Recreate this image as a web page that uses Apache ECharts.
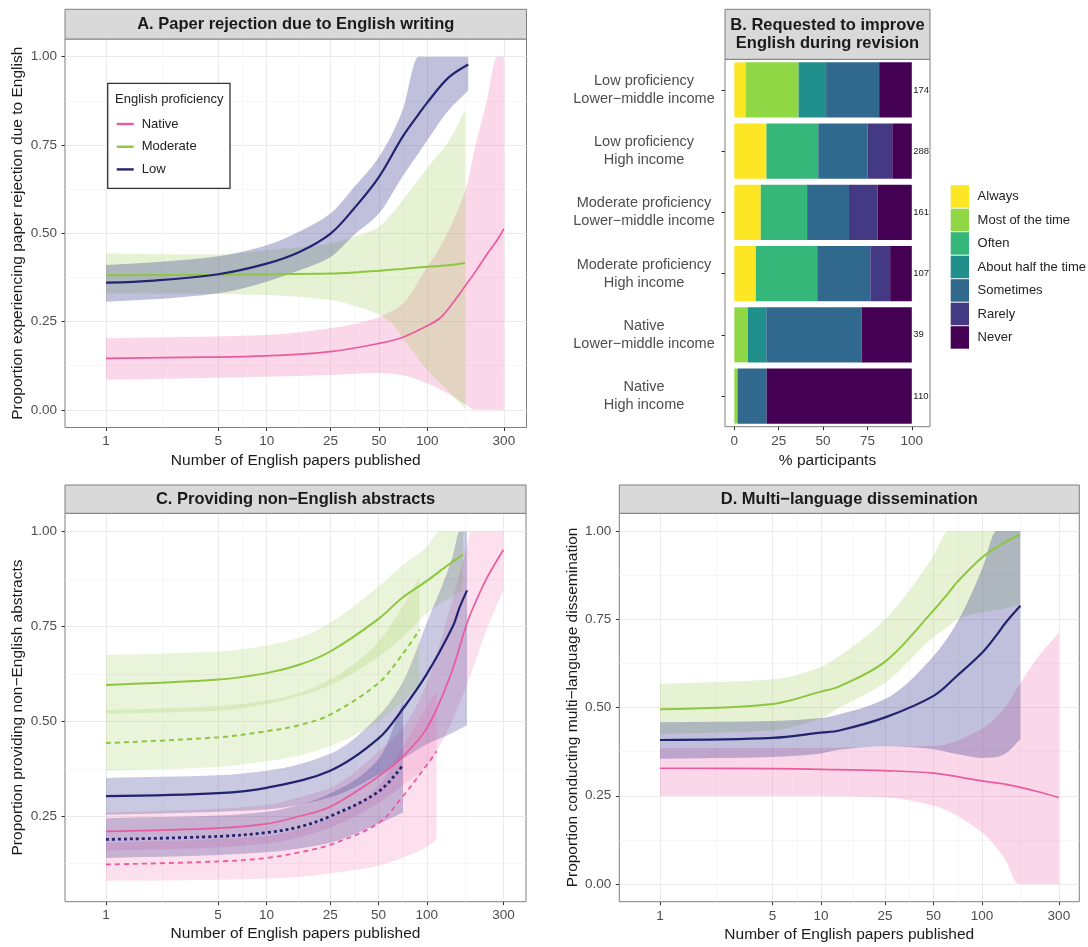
<!DOCTYPE html>
<html>
<head>
<meta charset="utf-8">
<script src="https://cdn.jsdelivr.net/npm/echarts@6/dist/echarts.min.js"></script>
<style>
html,body{margin:0;padding:0;background:#fff;}
#chart{width:1088px;height:947px;}
</style>
</head>
<body>
<div id="chart"></div>
<script>
// ---------------- DATA ----------------
const xTicks = [1, 5, 10, 25, 50, 100, 300];
const yTicks = [0, 0.25, 0.5, 0.75, 1];
const pctTicks = [0, 25, 50, 75, 100];
const groups = ['Native', 'Moderate', 'Low'];

// rows: [papers published, fitted proportion, lower CI, upper CI]
// A. Paper rejection due to English writing
const rejNative = [
  [1, .146, .085, .203], [4, .149, .090, .207], [10, .153, .094, .212], [25, .165, .099, .231],
  [50, .188, .104, .262], [70, .205, .098, .300], [100, .238, .075, .405], [120, .260, .058, .460],
  [140, .295, .042, .520], [175, .355, .014, .630], [200, .392, 0, .750], [235, .440, 0, .876],
  [272, .480, 0, 1], [300, .513, 0, 1]
];
const rejModerate = [
  [1, .381, .330, .443], [5, .382, .328, .440], [10, .384, .325, .452], [25, .386, .311, .471],
  [35, .389, .295, .490], [50, .394, .270, .518], [60, .397, .245, .555], [70, .399, .205, .593],
  [100, .405, .113, .685], [140, .410, .047, .770], [172, .416, .003, .850]
];
const rejLow = [
  [1, .360, .306, .410], [2, .366, .313, .418], [5, .384, .330, .435], [10, .414, .363, .466],
  [16, .447, .395, .505], [25, .499, .433, .556], [35, .570, .495, .630], [50, .659, .556, .716],
  [70, .772, .660, .847], [88, .836, .726, 1], [100, .870, .763, 1], [135, .940, .847, 1], [180, .978, .904, 1]
];

// B. Requested to improve English during revision (% participants)
const bCategories = [
  'Low proficiency\nLower\u2212middle income', 'Low proficiency\nHigh income',
  'Moderate proficiency\nLower\u2212middle income', 'Moderate proficiency\nHigh income',
  'Native\nLower\u2212middle income', 'Native\nHigh income'
];
const bCounts = [174, 288, 161, 107, 39, 110];
const bLevels = ['Always', 'Most of the time', 'Often', 'About half the time', 'Sometimes', 'Rarely', 'Never'];
const bAlways    = [6.3, 18.1, 14.9, 12.1, 0, 0];
const bMost      = [29.9, 0, 0, 0, 7.7, 1.8];
const bOften     = [0, 29.2, 26.1, 34.6, 0, 0];
const bHalf      = [15.5, 0, 0, 0, 10.3, 0];
const bSometimes = [29.9, 27.8, 23.6, 29.9, 53.8, 16.4];
const bRarely    = [0, 13.9, 16.1, 11.2, 0, 0];
const bNever     = [18.4, 11.0, 19.3, 12.2, 28.2, 81.8];

// C. Providing non-English abstracts
const absNativeSolid = [
  [1, .210, .160, .260], [5, .219, .168, .270], [10, .230, .178, .280], [16, .250, .195, .300],
  [25, .275, .220, .325], [50, .355, .285, .420], [70, .405, .330, .480], [100, .482, .385, .600],
  [140, .620, .490, .800], [175, .750, .590, .950], [190, .790, .630, 1], [235, .875, .740, 1], [300, .952, .846, 1]
];
const absNativeDashed = [
  [1, .123, .080, .180], [5, .131, .083, .190], [10, .140, .086, .198], [16, .155, .090, .215],
  [25, .175, .100, .245], [50, .232, .120, .330], [70, .300, .140, .430], [100, .385, .170, .540], [115, .421, .190, .580]
];
const absModerateSolid = [
  [1, .596, .520, .675], [5, .610, .528, .684], [10, .627, .545, .700], [16, .649, .566, .720],
  [25, .684, .595, .760], [50, .770, .671, .855], [70, .825, .720, .910], [100, .870, .785, .960],
  [120, .895, .810, 1], [139, .915, .825, 1], [168, .939, .845, 1]
];
const absModerateDashed = [
  [1, .443, .370, .530], [5, .458, .380, .540], [10, .474, .395, .555], [16, .490, .410, .575],
  [25, .518, .435, .610], [50, .601, .500, .710], [70, .675, .550, .800], [90, .741, .600, .880]
];
const absLowSolid = [
  [1, .303, .254, .351], [5, .311, .262, .358], [10, .325, .268, .370], [25, .370, .300, .415],
  [50, .455, .360, .515], [70, .530, .400, .600], [100, .625, .440, .760], [145, .750, .470, .935],
  [160, .800, .480, 1], [178, .845, .490, 1]
];
const absLowDotted = [
  [1, .189, .140, .245], [5, .197, .148, .252], [10, .207, .155, .262], [16, .222, .165, .280],
  [25, .250, .180, .310], [50, .315, .230, .400], [71, .385, .260, .550]
];

// D. Multi-language dissemination
const dissNative = [
  [1, .328, .250, .385], [5, .327, .250, .385], [10, .325, .250, .385], [25, .321, .245, .390],
  [50, .314, .222, .391], [100, .292, .146, .440], [139, .283, .070, .500], [168, .275, 0, .560],
  [220, .262, 0, .640], [300, .245, 0, .712]
];
const dissModerate = [
  [1, .495, .425, .567], [5, .510, .435, .580], [10, .545, .470, .615], [13, .560, .500, .646],
  [25, .630, .570, .750], [50, .775, .700, .930], [62, .825, .730, 1], [70, .855, .750, 1],
  [100, .925, .770, 1], [135, .965, .780, 1], [172, .990, .790, 1]
];
const dissLow = [
  [1, .408, .355, .458], [5, .414, .360, .462], [10, .429, .370, .470], [13, .435, .380, .481],
  [25, .472, .390, .524], [50, .533, .382, .646], [70, .590, .368, .741], [100, .655, .357, .892],
  [123, .705, .360, 1], [140, .740, .370, 1], [173, .788, .410, 1]
];

// ---------------- STYLE ----------------
const FONT = '"Liberation Sans", Arial, Helvetica, sans-serif';
const LINE = { Native: '#EB5A9F', Moderate: '#8DC641', Low: '#23236F' };
const BAND = { Native: 'rgba(238,90,165,0.24)', Moderate: 'rgba(150,200,70,0.24)', Low: 'rgba(45,45,140,0.30)' };
const BAND_C = { Native: 'rgba(238,90,165,0.19)', Moderate: 'rgba(150,200,70,0.20)', Low: 'rgba(45,45,140,0.26)' };
const VIRIDIS = ['#FDE725', '#8FD744', '#35B779', '#21908C', '#31688E', '#443A83', '#440154'];
const TICK = '#4D4D4D';
const BORDER = '#7F7F7F';

const L = Math.log10;
const xMajorVals = xTicks.map(L);
const xMinorVals = xMajorVals.slice(1).map((v, i) => (v + xMajorVals[i]) / 2);
const yMinorVals = yTicks.slice(1).map((v, i) => (v + yTicks[i]) / 2);

const P = {
  A: { left: 65, top: 39, width: 461.5, height: 388.5, xmin: -0.2555, xmax: 2.618, ymin: -0.05, ymax: 1.05 },
  B: { left: 725, top: 59.3, width: 205, height: 367.4 },
  C: { left: 65, top: 513.3, width: 461, height: 388.4, xmin: -0.2555, xmax: 2.618, ymin: 0.025, ymax: 1.048 },
  D: { left: 619.3, top: 513.3, width: 460, height: 388.4, xmin: -0.253, xmax: 2.604, ymin: -0.05, ymax: 1.05 }
};

function gridOf(p) {
  return { left: p.left, top: p.top, width: p.width, height: p.height, show: true,
    borderColor: BORDER, borderWidth: 1, backgroundColor: 'transparent', containLabel: false, outerBoundsMode: 'none' };
}
function xMajor(gi, p, gap, margin) {
  return { type: 'value', gridIndex: gi, min: p.xmin, max: p.xmax, position: 'bottom',
    name: 'Number of English papers published', nameLocation: 'middle', nameGap: gap,
    nameTextStyle: { fontSize: 15.5, color: '#1A1A1A', fontFamily: FONT },
    axisLine: { show: false, onZero: false },
    axisTick: { show: true, length: 3.5, customValues: xMajorVals, lineStyle: { color: '#333', width: 1 } },
    axisLabel: { customValues: xMajorVals, formatter: v => String(Math.round(Math.pow(10, v))),
      color: TICK, fontSize: 13.5, margin: margin, fontFamily: FONT },
    splitLine: { show: true, lineStyle: { color: '#EBEBEB', width: 1 } } };
}
function xMinor(gi, p) {
  return { type: 'value', gridIndex: gi, min: p.xmin, max: p.xmax, position: 'top',
    axisLine: { show: false, onZero: false },
    axisTick: { show: false, customValues: xMinorVals },
    axisLabel: { show: false, customValues: xMinorVals },
    splitLine: { show: true, lineStyle: { color: '#F4F4F4', width: 0.7 } } };
}
function yMajor(gi, p, name) {
  return { type: 'value', gridIndex: gi, min: p.ymin, max: p.ymax, position: 'left',
    name: name, nameLocation: 'middle', nameGap: 39,
    nameTextStyle: { fontSize: 15.5, color: '#1A1A1A', fontFamily: FONT },
    axisLine: { show: false, onZero: false },
    axisTick: { show: true, length: 3.5, customValues: yTicks, lineStyle: { color: '#333', width: 1 } },
    axisLabel: { customValues: yTicks, formatter: v => v.toFixed(2), color: TICK, fontSize: 13.5, margin: 8, fontFamily: FONT },
    splitLine: { show: true, lineStyle: { color: '#EBEBEB', width: 1 } } };
}
function yMinor(gi, p) {
  return { type: 'value', gridIndex: gi, min: p.ymin, max: p.ymax, position: 'right',
    axisLine: { show: false, onZero: false },
    axisTick: { show: false, customValues: yMinorVals },
    axisLabel: { show: false, customValues: yMinorVals },
    splitLine: { show: true, lineStyle: { color: '#F4F4F4', width: 0.7 } } };
}

// monotone cubic (Fritsch-Carlson) bezier segments through pixel points sorted by x
function monoSegments(pts) {
  const n = pts.length, d = [], m = [], h = [];
  for (let i = 0; i < n - 1; i++) {
    h.push(pts[i + 1][0] - pts[i][0]);
    d.push((pts[i + 1][1] - pts[i][1]) / h[i]);
  }
  m[0] = d[0]; m[n - 1] = d[n - 2];
  for (let i = 1; i < n - 1; i++) {
    if (d[i - 1] * d[i] <= 0) { m[i] = 0; }
    else {
      const w1 = 2 * h[i] + h[i - 1], w2 = h[i] + 2 * h[i - 1];
      m[i] = (w1 + w2) / (w1 / d[i - 1] + w2 / d[i]);
    }
  }
  const segs = [];
  for (let i = 0; i < n - 1; i++) {
    segs.push([
      [pts[i][0] + h[i] / 3, pts[i][1] + m[i] * h[i] / 3],
      [pts[i + 1][0] - h[i] / 3, pts[i + 1][1] - m[i + 1] * h[i] / 3]
    ]);
  }
  return segs;
}
const f = v => v.toFixed(2);

function band(rows, fill, ai) {
  return {
    type: 'custom', xAxisIndex: ai, yAxisIndex: ai, silent: true, z: 2, animation: false,
    data: rows.map(r => [L(r[0]), r[2], r[3]]),
    encode: { x: 0, y: [1, 2] },
    renderItem: function (params, api) {
      if (params.dataIndex !== 0) return null;
      const up = rows.map(r => api.coord([L(r[0]), r[3]]));
      const lo = rows.map(r => api.coord([L(r[0]), r[2]]));
      const su = monoSegments(up), sl = monoSegments(lo);
      let path = 'M' + f(up[0][0]) + ',' + f(up[0][1]);
      su.forEach((s, i) => {
        path += ' C' + f(s[0][0]) + ',' + f(s[0][1]) + ' ' + f(s[1][0]) + ',' + f(s[1][1]) + ' ' + f(up[i + 1][0]) + ',' + f(up[i + 1][1]);
      });
      const n = lo.length;
      path += ' L' + f(lo[n - 1][0]) + ',' + f(lo[n - 1][1]);
      for (let i = n - 2; i >= 0; i--) {
        const s = sl[i];
        path += ' C' + f(s[1][0]) + ',' + f(s[1][1]) + ' ' + f(s[0][0]) + ',' + f(s[0][1]) + ' ' + f(lo[i][0]) + ',' + f(lo[i][1]);
      }
      path += ' Z';
      return { type: 'path', shape: { pathData: path }, style: { fill: fill, stroke: null } };
    }
  };
}
function curve(rows, name, color, width, type, ai) {
  return { type: 'line', name: name, xAxisIndex: ai, yAxisIndex: ai,
    data: rows.map(r => [L(r[0]), r[1]]), symbol: 'none', showSymbol: false,
    smooth: 0.35, silent: true, z: 3, animation: false,
    lineStyle: { color: color, width: width, type: type, cap: 'butt' }, itemStyle: { color: color } };
}

// axis index map: A=0/1, B=2, C=3/4, D=5/6
const series = [];
// Panel A
series.push(band(rejNative, BAND.Native, 0), band(rejModerate, BAND.Moderate, 0), band(rejLow, BAND.Low, 0));
series.push(curve(rejNative, 'Native', LINE.Native, 1.7, 'solid', 0),
            curve(rejModerate, 'Moderate', LINE.Moderate, 2, 'solid', 0),
            curve(rejLow, 'Low', LINE.Low, 2.2, 'solid', 0));
// Panel C
series.push(band(absNativeSolid, BAND_C.Native, 3), band(absModerateSolid, BAND_C.Moderate, 3), band(absLowSolid, BAND_C.Low, 3),
            band(absNativeDashed, BAND_C.Native, 3), band(absModerateDashed, BAND_C.Moderate, 3), band(absLowDotted, BAND_C.Low, 3));
series.push(curve(absModerateDashed, 'Moderate (dashed)', LINE.Moderate, 2, [5, 4], 3),
            curve(absNativeDashed, 'Native (dashed)', LINE.Native, 1.8, [5, 4], 3),
            curve(absLowDotted, 'Low (dotted)', LINE.Low, 2.8, [3, 3], 3),
            curve(absModerateSolid, 'Moderate', LINE.Moderate, 2, 'solid', 3),
            curve(absNativeSolid, 'Native', LINE.Native, 1.7, 'solid', 3),
            curve(absLowSolid, 'Low', LINE.Low, 2.2, 'solid', 3));
// Panel D
series.push(band(dissNative, BAND.Native, 5), band(dissModerate, BAND.Moderate, 5), band(dissLow, BAND.Low, 5));
series.push(curve(dissNative, 'Native', LINE.Native, 1.7, 'solid', 5),
            curve(dissModerate, 'Moderate', LINE.Moderate, 2, 'solid', 5),
            curve(dissLow, 'Low', LINE.Low, 2.2, 'solid', 5));
// Panel B
const bValues = [bAlways, bMost, bOften, bHalf, bSometimes, bRarely, bNever];
bLevels.forEach((lvl, i) => {
  const s = { type: 'bar', name: lvl, xAxisIndex: 2, yAxisIndex: 2, stack: 'B', barWidth: '90%',
    data: bValues[i], itemStyle: { color: VIRIDIS[i] }, silent: true, animation: false };
  if (i === bLevels.length - 1) {
    s.label = { show: true, position: 'right', distance: 1.5, formatter: p => String(bCounts[p.dataIndex]),
      fontSize: 9.5, color: '#1A1A1A', fontFamily: FONT };
  }
  series.push(s);
});

function strip(x, y, w, h, text) {
  return { type: 'group', children: [
    { type: 'rect', shape: { x: x, y: y, width: w, height: h }, style: { fill: '#D9D9D9', stroke: BORDER, lineWidth: 1 }, z: 1 },
    { type: 'text', style: { text: text, x: x + w / 2, y: y + h / 2 + 0.5, align: 'center', verticalAlign: 'middle',
      fill: '#1A1A1A', font: 'bold 16.5px ' + FONT, lineHeight: 18 }, z: 2 }
  ] };
}

const option = {
  backgroundColor: '#ffffff',
  animation: false,
  textStyle: { fontFamily: FONT },
  grid: [gridOf(P.A), gridOf(P.B), gridOf(P.C), gridOf(P.D)],
  xAxis: [
    xMajor(0, P.A, 25, 6.5), xMinor(0, P.A),
    { type: 'value', gridIndex: 1, min: -5.25, max: 110.25, position: 'bottom',
      name: '% participants', nameLocation: 'middle', nameGap: 26,
      nameTextStyle: { fontSize: 15.5, color: '#1A1A1A', fontFamily: FONT },
      axisLine: { show: false, onZero: false },
      axisTick: { show: true, length: 3.5, customValues: pctTicks, lineStyle: { color: '#333' } },
      axisLabel: { customValues: pctTicks, color: TICK, fontSize: 13.5, margin: 8, fontFamily: FONT },
      splitLine: { show: false } },
    xMajor(2, P.C, 24, 6.5), xMinor(2, P.C),
    xMajor(3, P.D, 25.5, 8), xMinor(3, P.D)
  ],
  yAxis: [
    yMajor(0, P.A, 'Proportion experiencing paper rejection due to English'), yMinor(0, P.A),
    { type: 'category', gridIndex: 1, data: bCategories, inverse: true,
      axisLine: { show: false, onZero: false },
      axisTick: { show: true, length: 3.5, alignWithLabel: true, lineStyle: { color: '#333' } },
      axisLabel: { color: TICK, fontSize: 14.5, lineHeight: 18, align: 'center', margin: 81, fontFamily: FONT },
      splitLine: { show: false } },
    yMajor(2, P.C, 'Proportion providing non\u2212English abstracts'), yMinor(2, P.C),
    yMajor(3, P.D, 'Proportion conducting multi\u2212language dissemination'), yMinor(3, P.D)
  ],
  legend: [
    { data: groups, orient: 'vertical', left: 116.7, top: 116, padding: 0, itemGap: 6.7,
      itemWidth: 17, itemHeight: 2.4, icon: 'rect', selectedMode: false, z: 6,
      textStyle: { fontSize: 13, color: '#222', lineHeight: 16, padding: [0, 0, 0, 3], fontFamily: FONT } },
    { data: bLevels, orient: 'vertical', left: 950.7, top: 185.2, padding: 0, itemGap: 1,
      itemWidth: 18.3, itemHeight: 22.5, icon: 'rect', selectedMode: false,
      textStyle: { fontSize: 13, color: '#222', padding: [0, 0, 0, 3.6], fontFamily: FONT } }
  ],
  graphic: [
    strip(65, 9.3, 461.5, 29.7, 'A. Paper rejection due to English writing'),
    strip(725, 9.3, 205, 50, 'B. Requested to improve\nEnglish during revision'),
    strip(65, 485, 461, 28.3, 'C. Providing non\u2212English abstracts'),
    strip(619.3, 485, 460, 28.3, 'D. Multi\u2212language dissemination'),
    { type: 'rect', shape: { x: 107.7, y: 83.3, width: 122.3, height: 105 },
      style: { fill: '#ffffff', stroke: '#333333', lineWidth: 1.3 }, z: 4 },
    { type: 'text', style: { text: 'English proficiency', x: 115, y: 99.3, verticalAlign: 'middle',
      fill: '#222', font: '13px ' + FONT }, z: 5 }
  ],
  series: series
};

const chart = echarts.init(document.getElementById('chart'), null, { renderer: 'canvas' });
chart.setOption(option);
</script>
</body>
</html>
